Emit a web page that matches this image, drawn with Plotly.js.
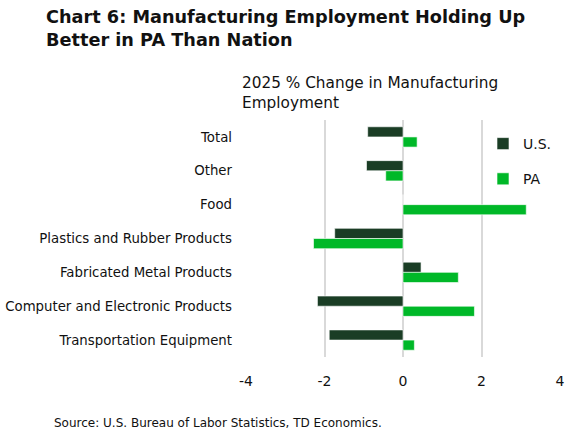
<!DOCTYPE html>
<html>
<head>
<meta charset="utf-8">
<script src="https://cdn.plot.ly/plotly-3.0.1.min.js"></script>
<style>html,body{margin:0;padding:0;background:#fff}#chart{width:579px;height:432px}</style>
</head>
<body>
<div id="chart"></div>
<script>
// categories, top to bottom
const categories = ['Total', 'Other', 'Food', 'Plastics and Rubber Products',
  'Fabricated Metal Products', 'Computer and Electronic Products', 'Transportation Equipment'];
const usValues = [-0.90, -0.93, 0, -1.74, 0.46, -2.18, -1.88];
const paValues = [0.36, -0.44, 3.14, -2.28, 1.41, 1.82, 0.29];
const xTicks = [-4, -2, 0, 2, 4];

const font = '"DejaVu Sans", "Open Sans", sans-serif';

// plot box in pixels, used to place the free texts
const W = 579, H = 432;
const L = 246, R = 19, T = 120, B = 75;
const px = x => (x - L) / (W - L - R);
const py = y => (H - B - y) / (H - T - B);

const traces = [
  { type: 'bar', orientation: 'h', name: 'U.S.', y: categories, x: usValues,
    legendgroup: 'us',
    marker: { color: '#1a3d25', line: { color: '#ffffff', width: 0.6 } } },
  { type: 'bar', orientation: 'h', name: 'PA', y: categories, x: paValues,
    legendgroup: 'pa',
    marker: { color: '#00b828', line: { color: '#ffffff', width: 0.6 } } }
];

const layout = {
  width: W, height: H,
  margin: { l: L, r: R, t: T, b: B },
  paper_bgcolor: '#fff', plot_bgcolor: '#fff',
  font: { family: font, color: '#111', size: 13 },
  barmode: 'group', bargap: 0.4, bargroupgap: 0,
  xaxis: {
    range: [-4, 4], tickvals: xTicks, ticktext: xTicks.map(String),
    showgrid: true, gridcolor: '#d9d9d9', gridwidth: 2,
    zeroline: true, zerolinecolor: '#d9d9d9', zerolinewidth: 2,
    showline: false, ticks: '', ticklabelstandoff: 14,
    tickfont: { size: 14, color: '#111' }
  },
  yaxis: {
    autorange: 'reversed', showgrid: false, zeroline: false, showline: false,
    ticks: '', ticklabelstandoff: 13, tickfont: { size: 13.3, color: '#111' }
  },
  legend: {
    x: px(483), y: py(128), xanchor: 'left', yanchor: 'top',
    traceorder: 'grouped', tracegroupgap: 14,
    bgcolor: 'rgba(0,0,0,0)', font: { size: 14, color: '#111' }
  },
  annotations: [
    { text: '<b>Chart 6: Manufacturing Employment Holding Up<br>Better in PA Than Nation</b>',
      xref: 'paper', yref: 'paper', x: px(44), y: py(5),
      xanchor: 'left', yanchor: 'top', align: 'left', showarrow: false,
      font: { size: 17.7, color: '#111' } },
    { text: '2025 % Change in Manufacturing<br>Employment',
      xref: 'paper', yref: 'paper', x: px(240), y: py(72),
      xanchor: 'left', yanchor: 'top', align: 'left', showarrow: false,
      font: { size: 15.3, color: '#111' } },
    { text: 'Source: U.S. Bureau of Labor Statistics, TD Economics.',
      xref: 'paper', yref: 'paper', x: px(52), y: py(414),
      xanchor: 'left', yanchor: 'top', align: 'left', showarrow: false,
      font: { size: 12, color: '#111' } }
  ]
};

Plotly.newPlot('chart', traces, layout, { staticPlot: true, displayModeBar: false });
</script>
</body>
</html>
